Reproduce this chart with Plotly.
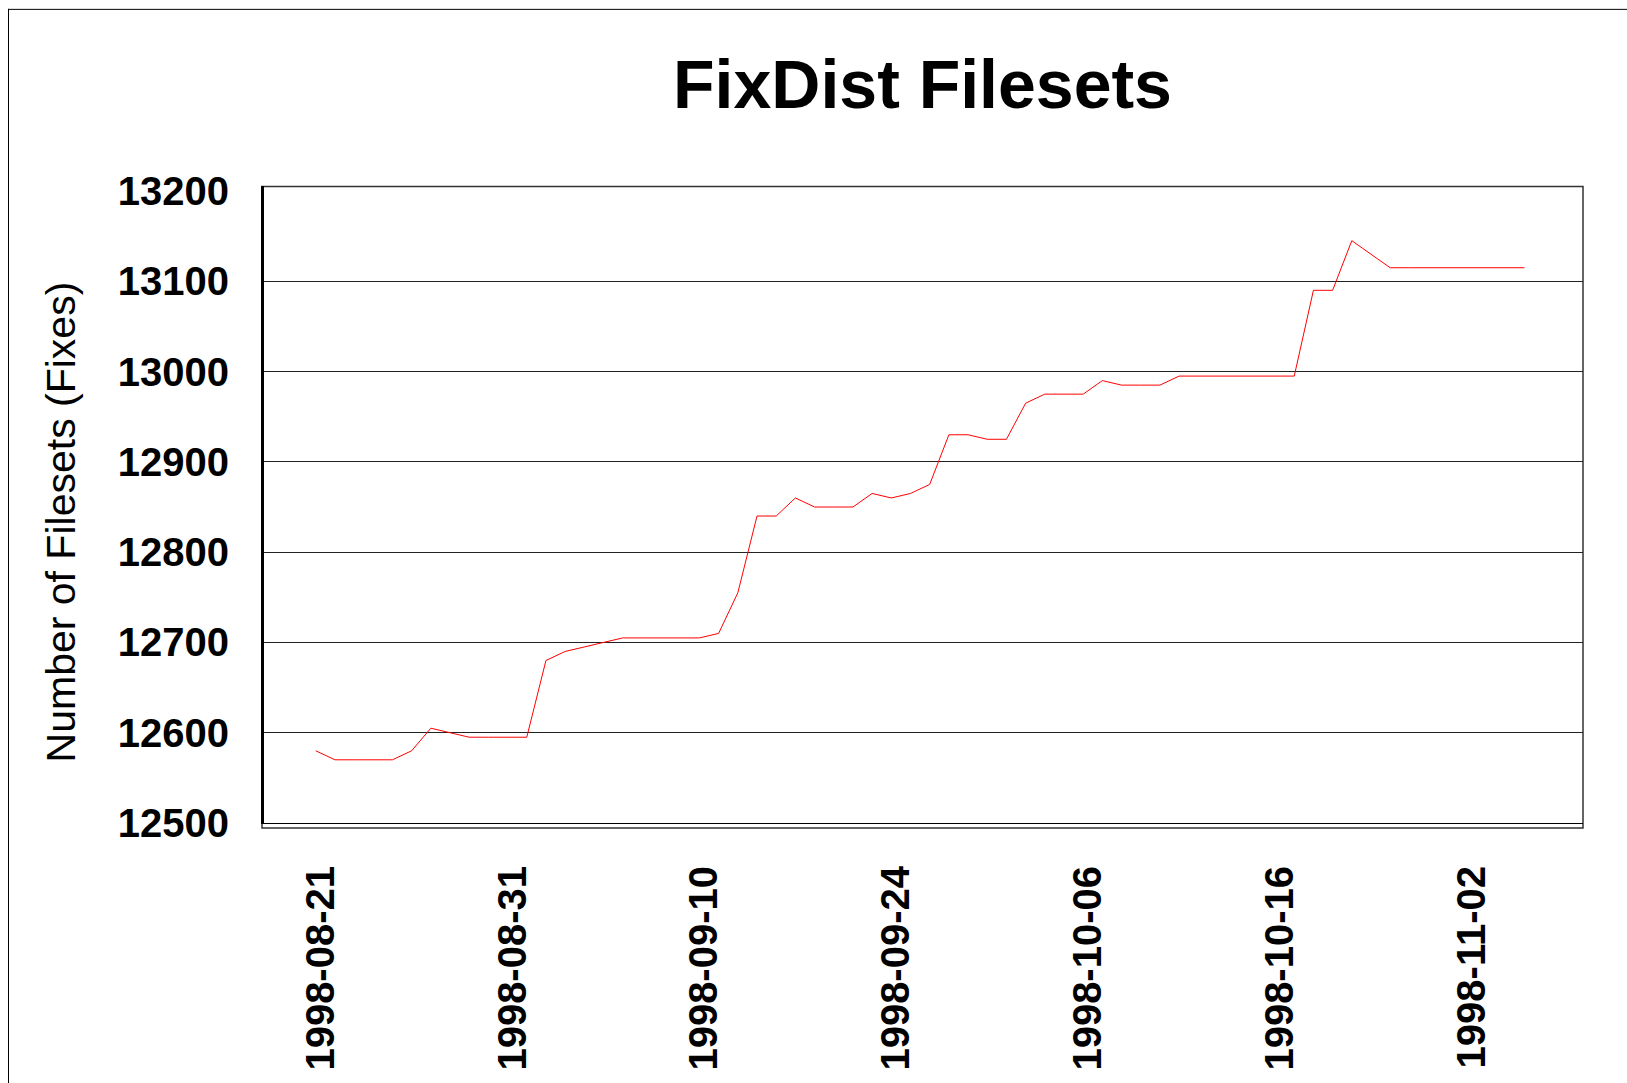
import plotly.graph_objects as go

# ---- data ----
filesets = [
    12580, 12570, 12570, 12570, 12570, 12580, 12605, 12600, 12595, 12595,
    12595, 12595, 12680, 12690, 12695, 12700, 12705, 12705, 12705, 12705,
    12705, 12710, 12755, 12840, 12840, 12860, 12850, 12850, 12850, 12865,
    12860, 12865, 12875, 12930, 12930, 12925, 12925, 12965, 12975, 12975,
    12975, 12990, 12985, 12985, 12985, 12995, 12995, 12995, 12995, 12995,
    12995, 12995, 13090, 13090, 13145, 13130, 13115, 13115, 13115, 13115,
    13115, 13115, 13115, 13115,
]
tick_labels = ["1998-08-21", "1998-08-31", "1998-09-10", "1998-09-24",
               "1998-10-06", "1998-10-16", "1998-11-02"]
tick_positions = [0, 10, 20, 30, 40, 50, 60]
y_ticks = [12500, 12600, 12700, 12800, 12900, 13000, 13100, 13200]

x = list(range(len(filesets)))

W, H = 1627, 1083
L, R, T, B = 262, 1583, 191, 826  # plot area in pixels
pw, ph = R - L, B - T


def px(xp):
    return (xp - L) / pw


def py(yp):
    return (B - yp) / ph


FONT = "Liberation Sans, Arial, sans-serif"

fig = go.Figure()
fig.add_trace(go.Scatter(
    x=x, y=filesets, mode="lines",
    line=dict(color="#ff0000", width=1),
    showlegend=False, hoverinfo="x+y",
))

fig.update_layout(
    width=W, height=H,
    margin=dict(l=L, r=W - R, t=T, b=H - B, pad=0),
    paper_bgcolor="white", plot_bgcolor="white",
    font=dict(family=FONT, color="black"),
    title=dict(
        text="<b>FixDist Filesets</b>",
        font=dict(size=68, family=FONT, color="black"),
        xref="paper", x=0.5, xanchor="center",
        yref="container", y=1 - 84 / H, yanchor="middle",
    ),
    xaxis=dict(
        range=[-2.8, 66.05],
        tickmode="array", tickvals=tick_positions, ticktext=tick_labels,
        tickangle=-90,
        tickfont=dict(size=40, family=FONT, color="black", weight="bold"),
        showgrid=False, zeroline=False,
        showline=True, linecolor="black", linewidth=1, ticks="",
        ticklabelstandoff=26, ticklabelshift=5,
    ),
    yaxis=dict(
        range=[12500, 13200],
        tickmode="array", tickvals=y_ticks, ticktext=[str(v) for v in y_ticks],
        tickfont=dict(size=40, family=FONT, color="black", weight="bold"),
        showgrid=True, gridcolor="#222222", gridwidth=1,
        zeroline=False, showline=False,
        ticks="", ticklabelstandoff=32,
    ),
    shapes=[
        # plot area frame (slightly outset, as in the original)
        dict(type="rect", xref="paper", yref="paper",
             x0=0, x1=1, y0=py(831), y1=py(186.5),
             line=dict(color="#333333", width=1.5), layer="below"),
        # thick value-axis line
        dict(type="line", xref="paper", yref="paper",
             x0=px(262.5), x1=px(262.5), y0=py(827), y1=py(186),
             line=dict(color="black", width=3)),
        # outer chart frame (top and left edges)
        dict(type="line", xref="paper", yref="paper",
             x0=px(8), x1=px(W + 20), y0=py(8.5), y1=py(8.5),
             line=dict(color="black", width=1)),
        dict(type="line", xref="paper", yref="paper",
             x0=px(8.5), x1=px(8.5), y0=py(8), y1=py(H + 20),
             line=dict(color="black", width=1)),
    ],
    annotations=[
        dict(text="Number of Filesets (Fixes)", textangle=-90,
             xref="paper", yref="paper", x=px(60.5), y=py(523.5),
             xanchor="center", yanchor="middle", showarrow=False,
             font=dict(size=41, family=FONT, color="black")),
    ],
)

fig.write_html("out.html", config={"displayModeBar": False},
               post_script="document.body.style.margin='0';")
